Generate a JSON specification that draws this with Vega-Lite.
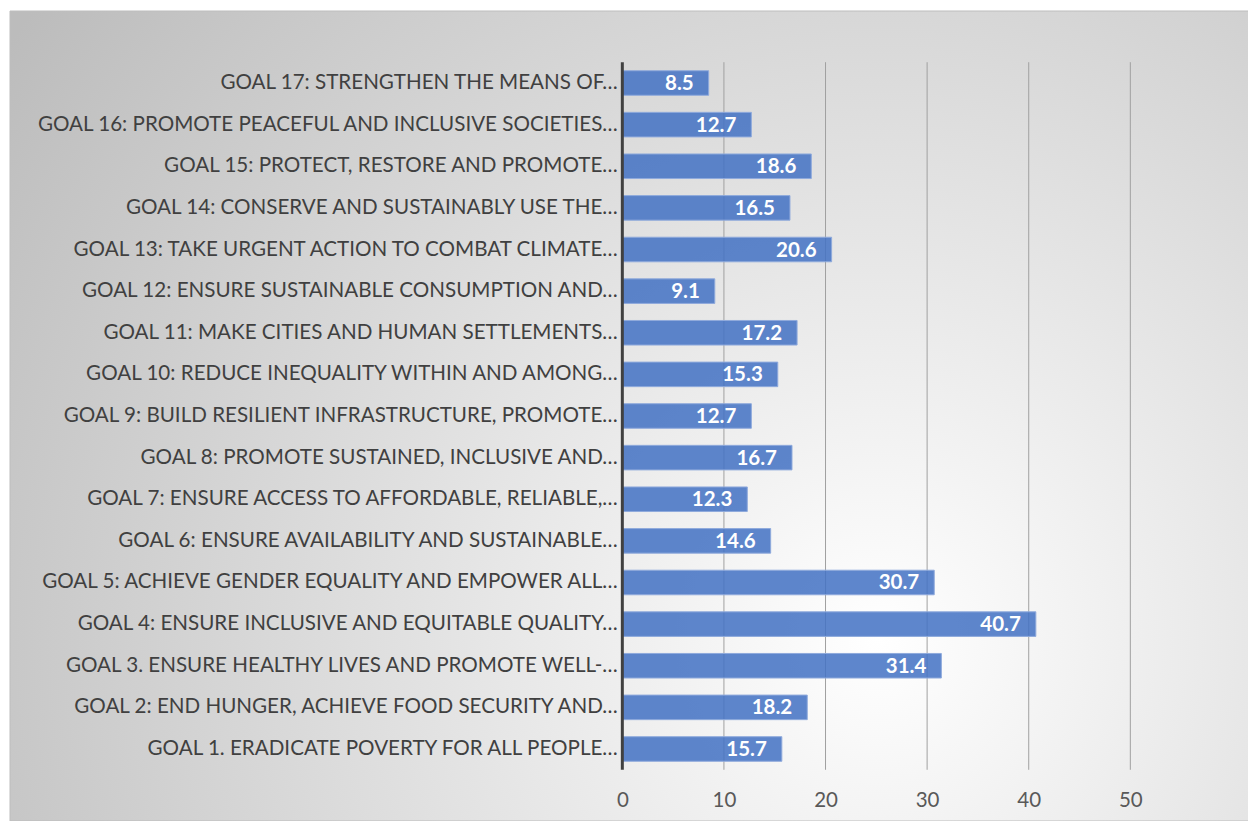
{
  "$schema": "https://vega.github.io/schema/vega-lite/v6.json",
  "width": 1240,
  "height": 810,
  "autosize": {"type": "none"},
  "padding": {"left": 10, "top": 11, "right": 0, "bottom": 0},
  "background": "#ffffff",
  "config": {
    "view": {"stroke": null}
  },
  "datasets": {
    "goals": [
      {"goal": "GOAL 17: STRENGTHEN THE MEANS OF…", "value": 8.5},
      {"goal": "GOAL 16: PROMOTE PEACEFUL AND INCLUSIVE SOCIETIES…", "value": 12.7},
      {"goal": "GOAL 15: PROTECT, RESTORE AND PROMOTE…", "value": 18.6},
      {"goal": "GOAL 14: CONSERVE AND SUSTAINABLY USE THE…", "value": 16.5},
      {"goal": "GOAL 13: TAKE URGENT ACTION TO COMBAT CLIMATE…", "value": 20.6},
      {"goal": "GOAL 12: ENSURE SUSTAINABLE CONSUMPTION AND…", "value": 9.1},
      {"goal": "GOAL 11: MAKE CITIES AND HUMAN SETTLEMENTS…", "value": 17.2},
      {"goal": "GOAL 10: REDUCE INEQUALITY WITHIN AND AMONG…", "value": 15.3},
      {"goal": "GOAL 9: BUILD RESILIENT INFRASTRUCTURE, PROMOTE…", "value": 12.7},
      {"goal": "GOAL 8: PROMOTE SUSTAINED, INCLUSIVE AND…", "value": 16.7},
      {"goal": "GOAL 7: ENSURE ACCESS TO AFFORDABLE, RELIABLE,…", "value": 12.3},
      {"goal": "GOAL 6: ENSURE AVAILABILITY AND SUSTAINABLE…", "value": 14.6},
      {"goal": "GOAL 5: ACHIEVE GENDER EQUALITY AND EMPOWER ALL…", "value": 30.7},
      {"goal": "GOAL 4: ENSURE INCLUSIVE AND EQUITABLE QUALITY…", "value": 40.7},
      {"goal": "GOAL 3. ENSURE HEALTHY LIVES AND PROMOTE WELL-…", "value": 31.4},
      {"goal": "GOAL 2: END HUNGER, ACHIEVE FOOD SECURITY AND…", "value": 18.2},
      {"goal": "GOAL 1. ERADICATE POVERTY FOR ALL PEOPLE…", "value": 15.7}
    ],
    "grid": [{"v": 10}, {"v": 20}, {"v": 30}, {"v": 40}, {"v": 50}]
  },
  "layer": [
    {
      "data": {"values": [{"bg": 1}]},
      "mark": {
        "type": "rect",
        "stroke": "#bdbdbd",
        "strokeWidth": 1,
        "fill": {
          "gradient": "radial",
          "x1": 0.7, "y1": 0.68, "r1": 0,
          "x2": 0.7, "y2": 0.68, "r2": 0.85,
          "stops": [
            {"offset": 0, "color": "#ffffff"},
            {"offset": 1, "color": "#bcbcbc"}
          ]
        }
      },
      "encoding": {}
    },
    {
      "data": {"name": "grid"},
      "mark": {"type": "rule", "stroke": "#a0a0a0", "strokeWidth": 1, "yOffset": -20.8, "y2Offset": 20.8},
      "encoding": {
        "x": {"field": "v", "type": "quantitative", "title": null},
        "y": {"datum": "GOAL 17: STRENGTHEN THE MEANS OF…", "type": "nominal"},
        "y2": {"datum": "GOAL 1. ERADICATE POVERTY FOR ALL PEOPLE…"}
      }
    },
    {
      "data": {"name": "goals"},
      "mark": {"type": "bar", "fill": "#4472C4", "fillOpacity": 0.86, "stroke": "#8FAADC", "strokeWidth": 1},
      "encoding": {
        "y": {
          "field": "goal", "type": "nominal", "sort": null, "title": null,
          "axis": {"zindex": 1, "offset": -612.3, "domain": false, "ticks": false, "grid": false, "labelPadding": 5, "labelFont": "Lato", "labelFontSize": 20.6, "labelColor": "#404040", "labelLimit": 0},
          "scale": {"paddingInner": 0.41, "paddingOuter": 0.205, "range": [51.2, 758.8], "domain": [
          "GOAL 17: STRENGTHEN THE MEANS OF…",
          "GOAL 16: PROMOTE PEACEFUL AND INCLUSIVE SOCIETIES…",
          "GOAL 15: PROTECT, RESTORE AND PROMOTE…",
          "GOAL 14: CONSERVE AND SUSTAINABLY USE THE…",
          "GOAL 13: TAKE URGENT ACTION TO COMBAT CLIMATE…",
          "GOAL 12: ENSURE SUSTAINABLE CONSUMPTION AND…",
          "GOAL 11: MAKE CITIES AND HUMAN SETTLEMENTS…",
          "GOAL 10: REDUCE INEQUALITY WITHIN AND AMONG…",
          "GOAL 9: BUILD RESILIENT INFRASTRUCTURE, PROMOTE…",
          "GOAL 8: PROMOTE SUSTAINED, INCLUSIVE AND…",
          "GOAL 7: ENSURE ACCESS TO AFFORDABLE, RELIABLE,…",
          "GOAL 6: ENSURE AVAILABILITY AND SUSTAINABLE…",
          "GOAL 5: ACHIEVE GENDER EQUALITY AND EMPOWER ALL…",
          "GOAL 4: ENSURE INCLUSIVE AND EQUITABLE QUALITY…",
          "GOAL 3. ENSURE HEALTHY LIVES AND PROMOTE WELL-…",
          "GOAL 2: END HUNGER, ACHIEVE FOOD SECURITY AND…",
          "GOAL 1. ERADICATE POVERTY FOR ALL PEOPLE…"
        ]}},
        "x": {
          "field": "value", "type": "quantitative", "title": null,
          "scale": {"domain": [-60.27, 61.78], "nice": false},
          "axis": {"zindex": 1, "values": [0, 10, 20, 30, 40, 50], "offset": -51, "domain": false, "ticks": false, "grid": false, "labelPadding": 20, "labelFont": "Lato", "labelFontSize": 20.5, "labelColor": "#595959"}
        }
      }
    },
    {
      "data": {"values": [{"axis": 0}]},
      "mark": {"type": "rule", "stroke": "#404040", "strokeWidth": 3, "yOffset": -20.8, "y2Offset": 20.8},
      "encoding": {
        "x": {"field": "axis", "type": "quantitative", "title": null},
        "y": {"datum": "GOAL 17: STRENGTHEN THE MEANS OF…", "type": "nominal"},
        "y2": {"datum": "GOAL 1. ERADICATE POVERTY FOR ALL PEOPLE…"}
      }
    },
    {
      "data": {"name": "goals"},
      "mark": {"type": "text", "align": "right", "baseline": "middle", "dx": -15, "dy": 1, "font": "Lato", "fontSize": 20.5, "fontWeight": "bold", "fill": "#ffffff"},
      "encoding": {
        "y": {"field": "goal", "type": "nominal", "sort": null, "title": null},
        "x": {"field": "value", "type": "quantitative", "title": null},
        "text": {"field": "value", "type": "quantitative", "format": ".1f"}
      }
    }
  ]
}
